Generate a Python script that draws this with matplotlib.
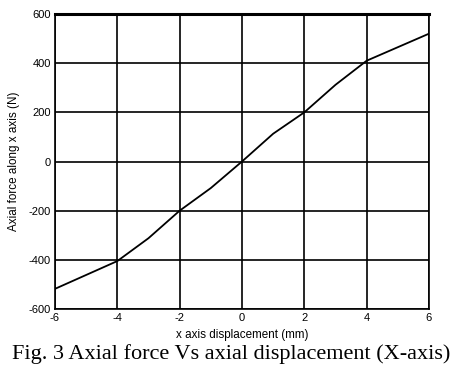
import matplotlib
matplotlib.use("Agg")
import matplotlib.pyplot as plt

# displacement (mm) and axial force (N)
disp = [-6, -4, -3, -2, -1, 0, 1, 2, 3, 4, 6]
force = [-518, -405, -312, -200, -108, 0, 113, 200, 312, 410, 520]

xticks = [-6, -4, -2, 0, 2, 4, 6]
yticks = [-600, -400, -200, 0, 200, 400, 600]

plt.rcParams['font.family'] = ['Liberation Sans', 'DejaVu Sans']
plt.rcParams['axes.unicode_minus'] = False

fig = plt.figure(figsize=(4.62, 3.74), dpi=100)
ax = fig.add_axes([55 / 462, 1 - 309 / 374, (429 - 55) / 462, (309 - 14) / 374])

ax.plot(disp, force, color='black', lw=1.3)

ax.set_xlim(-6, 6)
ax.set_ylim(-600, 600)
ax.set_xticks(xticks)
ax.set_yticks(yticks)
ax.grid(True, color='black', lw=1.2)
ax.tick_params(length=0, labelsize=8, pad=3)
for s in ax.spines.values():
    s.set_linewidth(1.2)
ax.spines['top'].set_linewidth(2.2)

ax.set_xlabel('x axis displacement (mm)', fontsize=8.4, labelpad=4)
ax.set_ylabel('Axial force along x axis (N)', fontsize=8.4, labelpad=6)

fig.text(0.5, 1 - 354 / 374, 'Fig. 3 Axial force Vs axial displacement (X-axis)',
         ha='center', va='center', fontsize=16, family=['Liberation Serif', 'DejaVu Serif'])

fig.savefig('out.png', dpi=100)
